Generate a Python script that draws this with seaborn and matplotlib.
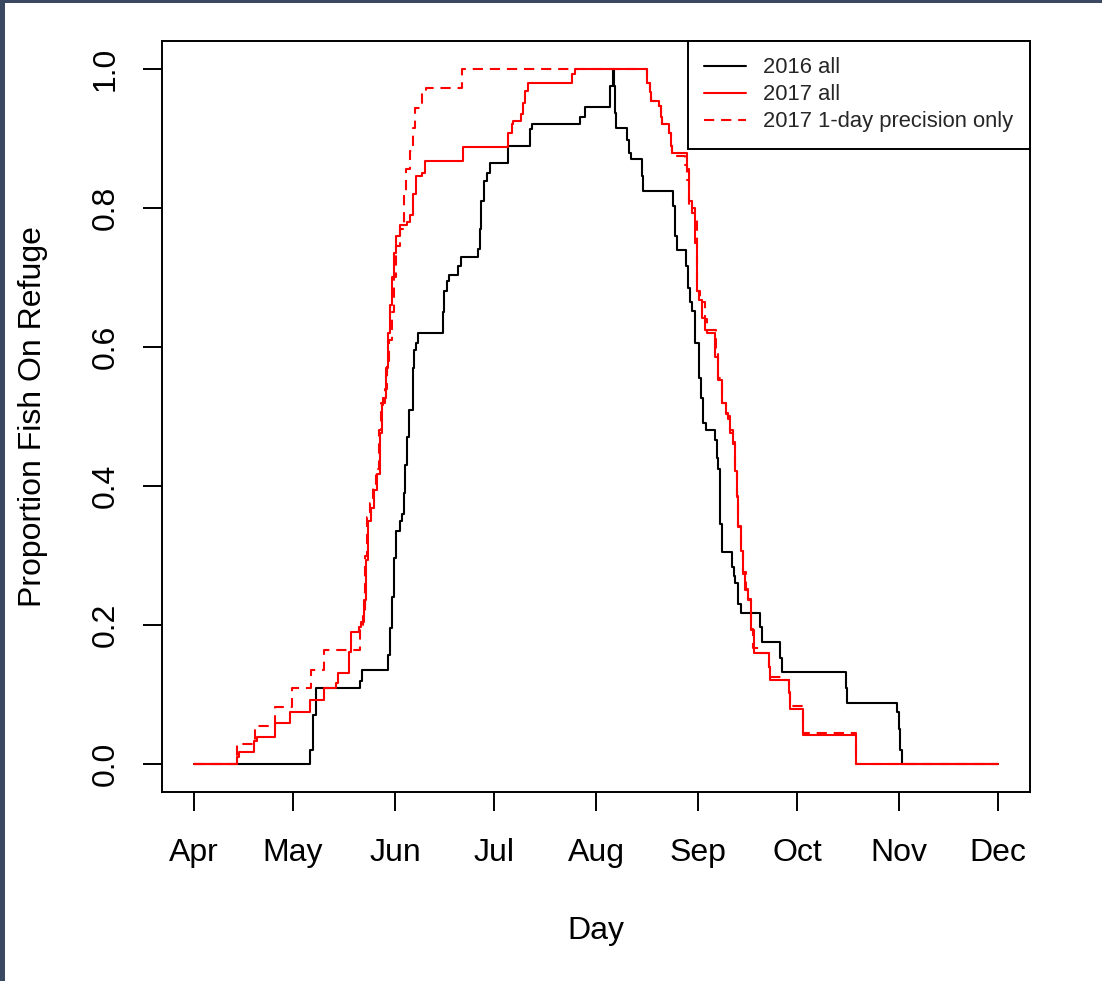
import matplotlib
matplotlib.use("Agg")
import matplotlib.pyplot as plt
from matplotlib.lines import Line2D
from matplotlib.patches import Rectangle
import seaborn as sns
import pandas as pd

# Cumulative proportion of tagged fish on the refuge, by day of year
days_2016 = [91, 126.2, 127.1, 128.0, 141.4, 142.0, 149.9, 150.5, 151.2, 151.8, 152.4, 153.5,
             154.1, 154.7, 155.0, 155.6, 156.2, 157.5, 157.8, 158.4, 159.0, 166.6, 166.9, 167.8,
             168.4, 171.1, 172.0, 177.2, 177.8, 178.1, 179.0, 179.9, 180.8, 186.3, 193.0, 193.6,
             208.1, 209.7, 217.3, 218.2, 218.5, 218.8, 219.1, 222.4, 223.0, 223.6, 227.0, 227.3,
             236.4, 237.0, 237.6, 240.3, 240.9, 241.5, 242.1, 243.0, 244.3, 244.9, 245.5, 246.4,
             249.1, 249.7, 250.0, 250.6, 251.2, 254.3, 254.8, 255.2, 256.1, 257.0, 262.8, 263.4,
             268.8, 269.5, 288.9, 289.2, 304.4, 305.0, 305.4, 305.8, 335]
prop_2016 = [0, 0.02, 0.07, 0.11, 0.12, 0.135, 0.157, 0.196, 0.24, 0.296, 0.336, 0.35,
             0.36, 0.39, 0.43, 0.47, 0.51, 0.57, 0.595, 0.606, 0.62, 0.65, 0.68, 0.695,
             0.703, 0.717, 0.73, 0.741, 0.77, 0.81, 0.839, 0.85, 0.865, 0.889, 0.914, 0.92,
             0.93, 0.945, 0.975, 1.0, 0.975, 0.937, 0.915, 0.897, 0.879, 0.871, 0.846, 0.825,
             0.803, 0.76, 0.739, 0.717, 0.685, 0.664, 0.652, 0.606, 0.556, 0.527, 0.49, 0.48,
             0.466, 0.44, 0.425, 0.346, 0.305, 0.283, 0.27, 0.261, 0.231, 0.217, 0.197, 0.175,
             0.152, 0.132, 0.11, 0.088, 0.075, 0.05, 0.02, 0, 0]

days_2017 = [91, 104.0, 104.6, 109.2, 110.1, 115.6, 120.1, 126.2, 130.3, 134.0, 134.6, 137.9,
             138.6, 141.0, 141.6, 142.5, 143.2, 143.8, 144.7, 145.6, 146.5, 147.4, 148.1, 148.4,
             149.2, 149.9, 150.5, 151.1, 151.7, 152.3, 153.5, 155.6, 156.6, 157.5, 158.4, 160.2,
             161.1, 172.6, 186.3, 187.5, 187.8, 190.2, 190.8, 191.5, 192.4, 205.7, 206.6, 228.5,
             229.4, 229.7, 232.1, 232.7, 233.0, 235.2, 235.8, 236.1, 240.6, 241.2, 242.1, 243.0,
             243.6, 244.3, 245.2, 246.1, 246.7, 249.1, 250.0, 251.2, 252.5, 253.1, 253.7, 254.6,
             255.2, 255.8, 256.1, 257.0, 257.6, 258.2, 259.1, 260.0, 260.9, 265.5, 265.8, 271.6,
             271.9, 275.8, 291.9, 335]
prop_2017 = [0, 0.01, 0.018, 0.034, 0.039, 0.059, 0.075, 0.092, 0.11, 0.116, 0.131, 0.161,
             0.19, 0.197, 0.204, 0.236, 0.293, 0.35, 0.369, 0.394, 0.418, 0.476, 0.516, 0.527,
             0.57, 0.62, 0.66, 0.7, 0.735, 0.76, 0.775, 0.78, 0.79, 0.82, 0.846, 0.85,
             0.868, 0.888, 0.908, 0.921, 0.925, 0.935, 0.951, 0.968, 0.98, 0.993, 1.0, 0.98,
             0.966, 0.953, 0.947, 0.93, 0.921, 0.908, 0.889, 0.879, 0.856, 0.81, 0.792, 0.75,
             0.68, 0.667, 0.642, 0.625, 0.62, 0.585, 0.552, 0.519, 0.504, 0.5, 0.476, 0.461,
             0.422, 0.384, 0.341, 0.307, 0.274, 0.25, 0.236, 0.193, 0.16, 0.139, 0.121, 0.102,
             0.08, 0.042, 0, 0]

days_2017_1day = [91, 104.0, 109.5, 115.6, 120.7, 126.5, 130.5, 141.4, 142.2, 142.8, 143.5, 144.4,
                  145.3, 146.2, 147.0, 147.8, 148.8, 149.6, 150.3, 151.0, 151.6, 152.4, 153.4, 154.6,
                  155.4, 156.4, 157.3, 158.0, 160.3, 161.5, 172.3, 228.5, 229.4, 229.7, 232.1, 232.7,
                  233.0, 235.2, 235.8, 236.1, 240.0, 240.6, 241.2, 242.9, 243.6, 244.6, 246.1, 246.7,
                  249.4, 250.0, 251.2, 252.5, 253.1, 253.7, 254.6, 255.2, 255.8, 256.1, 257.0, 257.6,
                  258.4, 259.1, 260.0, 260.6, 262.8, 265.5, 265.8, 269.8, 271.6, 271.9, 275.8, 291.9,
                  335]
prop_2017_1day = [0, 0.029, 0.055, 0.082, 0.109, 0.135, 0.164, 0.2, 0.22, 0.3, 0.355, 0.375,
                  0.40, 0.425, 0.48, 0.52, 0.54, 0.58, 0.61, 0.65, 0.7, 0.745, 0.77, 0.82,
                  0.856, 0.882, 0.915, 0.944, 0.968, 0.973, 1.0, 0.98, 0.966, 0.953, 0.947, 0.93,
                  0.921, 0.908, 0.889, 0.875, 0.862, 0.84, 0.8, 0.79, 0.68, 0.665, 0.64, 0.625,
                  0.59, 0.555, 0.52, 0.505, 0.496, 0.48, 0.463, 0.425, 0.386, 0.343, 0.31, 0.276,
                  0.252, 0.238, 0.195, 0.167, 0.16, 0.139, 0.125, 0.121, 0.104, 0.083, 0.045, 0,
                  0]

month_starts = [91, 121, 152, 182, 213, 244, 274, 305, 335]
month_labels = ["Apr", "May", "Jun", "Jul", "Aug", "Sep", "Oct", "Nov", "Dec"]
y_ticks = [0.0, 0.2, 0.4, 0.6, 0.8, 1.0]
series_labels = ["2016 all", "2017 all", "2017 1-day precision only"]

sns.set_theme(style="ticks")
plt.rcParams["font.family"] = ["Liberation Sans", "DejaVu Sans"]

fig = plt.figure(figsize=(11.02, 9.81), dpi=100, facecolor="white")
ax = fig.add_axes([0.147, 0.1927, 0.7877, 0.7655])
ax.set_facecolor("white")

df16 = pd.DataFrame({"day": days_2016, "prop": prop_2016})
df17 = pd.DataFrame({"day": days_2017, "prop": prop_2017})
df17d = pd.DataFrame({"day": days_2017_1day, "prop": prop_2017_1day})

lw = 1.5
dash = (0, (4.9, 3.3))
sns.lineplot(data=df16, x="day", y="prop", ax=ax, color="black", linewidth=lw,
             drawstyle="steps-post", estimator=None, sort=False)
sns.lineplot(data=df17, x="day", y="prop", ax=ax, color="#ff0000", linewidth=lw,
             drawstyle="steps-post", estimator=None, sort=False)
sns.lineplot(data=df17d, x="day", y="prop", ax=ax, color="#ff0000", linewidth=lw,
             drawstyle="steps-post", estimator=None, sort=False, linestyle=dash)

span = month_starts[-1] - month_starts[0]
ax.set_xlim(month_starts[0] - 0.04 * span, month_starts[-1] + 0.04 * span)
ax.set_ylim(-0.04, 1.04)

ax.set_xticks(month_starts)
ax.set_xticklabels(month_labels)
ax.set_yticks(y_ticks)
ax.set_yticklabels([f"{v:.1f}" for v in y_ticks], rotation=90, va="center")

ax.tick_params(axis="both", direction="out", length=13.5, width=1.4,
               color="black", labelsize=23, labelcolor="black")
ax.tick_params(axis="x", pad=20)
ax.tick_params(axis="y", pad=16)

for side in ["left", "right", "top", "bottom"]:
    ax.spines[side].set_visible(True)
    ax.spines[side].set_linewidth(1.4)
    ax.spines[side].set_color("black")

ax.set_xlabel("Day", fontsize=23, color="black")
ax.set_ylabel("Proportion Fish On Refuge", fontsize=23, color="black")
ax.xaxis.set_label_coords(0.5, -0.165)
ax.yaxis.set_label_coords(-0.131, 0.5)

handles = [
    Line2D([], [], color="black", linewidth=lw),
    Line2D([], [], color="#ff0000", linewidth=lw),
    Line2D([], [], color="#ff0000", linewidth=lw, linestyle=dash),
]
leg = ax.legend(handles, series_labels, loc="upper right", fontsize=15.8,
                frameon=True, fancybox=False, edgecolor="black", framealpha=1,
                borderaxespad=0, borderpad=0.75, handlelength=1.9,
                handletextpad=0.8, labelspacing=0.27)
leg.get_frame().set_linewidth(1.4)

# dark window edge on the left and top
fig.add_artist(Rectangle((0, 0), 5 / 1102, 1, transform=fig.transFigure,
                         facecolor="#3b4862", edgecolor="none"))
fig.add_artist(Rectangle((0, 1 - 3 / 981), 1, 3 / 981, transform=fig.transFigure,
                         facecolor="#3b4862", edgecolor="none"))

fig.savefig("out.png", dpi=100, facecolor="white")
